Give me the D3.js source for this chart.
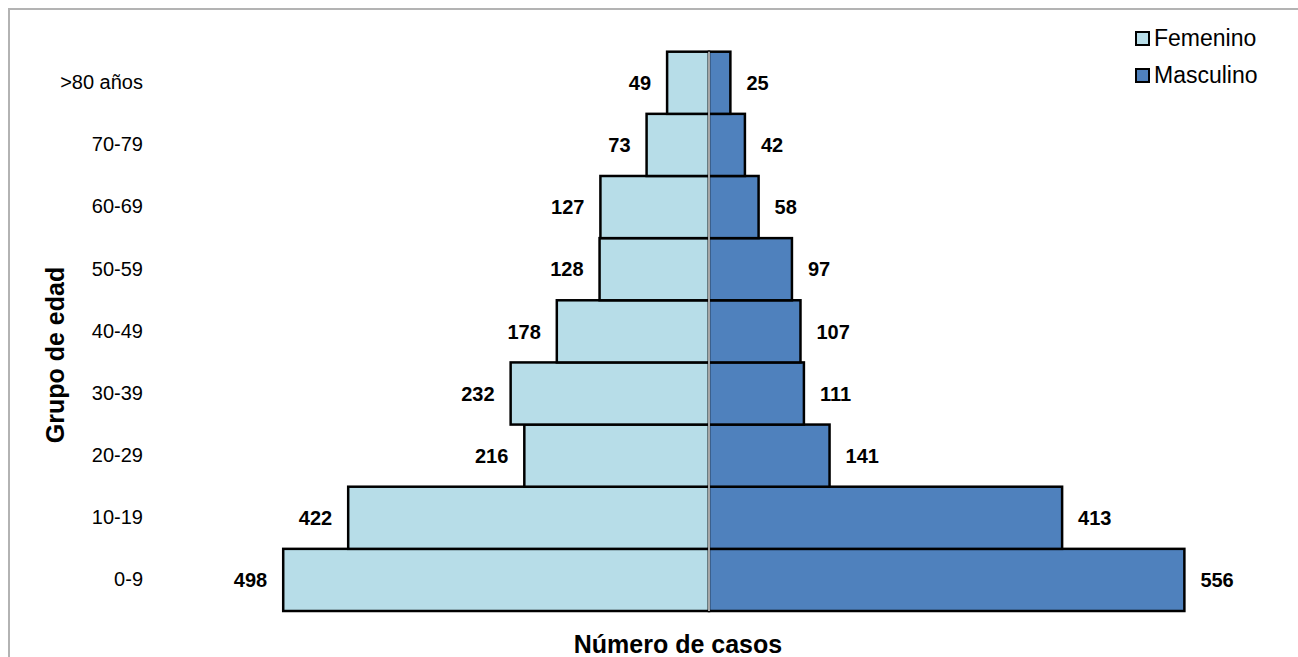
<!DOCTYPE html>
<html>
<head>
<meta charset="utf-8">
<script src="https://cdn.jsdelivr.net/npm/d3@7"></script>
<style>
  body { margin: 0; background: #fff; }
  text { font-family: "Liberation Sans", Arial, sans-serif; }
</style>
</head>
<body>
<script>
var w = 1298, h = 657,
    cx = 709;

// age groups, bottom to top
var groups = ["0-9", "10-19", "20-29", "30-39", "40-49", "50-59", "60-69", "70-79", ">80 años"];
var femenino = [498, 422, 216, 232, 178, 128, 127, 73, 49];
var masculino = [556, 413, 141, 111, 107, 97, 58, 42, 25];
var series = ["Femenino", "Masculino"];
var colors = ["#B7DDE8", "#4F81BD"];

var data = groups.map(function (g, i) { return { g: g, f: femenino[i], m: masculino[i] } });

var svg = d3.select("body").append("svg")
    .attr("width", w)
    .attr("height", h)

// chart border (top and left visible)
svg.append("path")
    .attr("d", "M9," + h + " V9 H" + w)
    .attr("fill", "none")
    .attr("stroke", "#B3B3B3")
    .attr("stroke-width", 2)

var y = d3.scaleBand().domain(groups.slice().reverse()).range([51.7, 611]).padding(0)
var len = d3.scaleLinear().domain([0, 600]).range([0, 513])

// female bars
svg.selectAll(".fem").data(data).enter().append("rect")
    .attr("class", "fem")
    .attr("x", function (d) { return cx - len(d.f) })
    .attr("y", function (d) { return y(d.g) })
    .attr("width", function (d) { return len(d.f) })
    .attr("height", y.bandwidth())
    .attr("fill", colors[0])
    .attr("stroke", "#000")
    .attr("stroke-width", 2.5)

// male bars
svg.selectAll(".masc").data(data).enter().append("rect")
    .attr("class", "masc")
    .attr("x", cx)
    .attr("y", function (d) { return y(d.g) })
    .attr("width", function (d) { return len(d.m) })
    .attr("height", y.bandwidth())
    .attr("fill", colors[1])
    .attr("stroke", "#000")
    .attr("stroke-width", 2.5)

// centre axis
svg.append("line")
    .attr("x1", cx).attr("x2", cx)
    .attr("y1", y.range()[0]).attr("y2", y.range()[1])
    .attr("stroke", "#A6A6A6")
    .attr("stroke-width", 2)

// value labels
svg.selectAll(".flab").data(data).enter().append("text")
    .attr("x", function (d) { return cx - len(d.f) - 16 })
    .attr("y", function (d) { return y(d.g) + y.bandwidth() / 2 })
    .attr("dy", "0.36em")
    .attr("text-anchor", "end")
    .style("font-size", "20px").style("font-weight", "bold")
    .text(function (d) { return d.f })

svg.selectAll(".mlab").data(data).enter().append("text")
    .attr("x", function (d) { return cx + len(d.m) + 16 })
    .attr("y", function (d) { return y(d.g) + y.bandwidth() / 2 })
    .attr("dy", "0.36em")
    .attr("text-anchor", "start")
    .style("font-size", "20px").style("font-weight", "bold")
    .text(function (d) { return d.m })

// category axis labels
var yAxis = d3.axisLeft(y).tickSize(0).tickPadding(0)
var ag = svg.append("g").attr("transform", "translate(143,0)").call(yAxis)
ag.select(".domain").remove()
ag.selectAll("text")
    .style("font-family", "'Liberation Sans', Arial, sans-serif")
    .style("font-size", "20px")
    .attr("fill", "#000")

// axis titles
svg.append("text")
    .attr("transform", "translate(64,355) rotate(-90)")
    .attr("text-anchor", "middle")
    .style("font-size", "25px").style("font-weight", "bold")
    .text("Grupo de edad")

svg.append("text")
    .attr("x", 678).attr("y", 653)
    .attr("text-anchor", "middle")
    .style("font-size", "25px").style("font-weight", "bold")
    .text("Número de casos")

// legend
var lg = svg.selectAll(".leg").data(series).enter().append("g")
    .attr("transform", function (d, i) { return "translate(1136," + (32 + i * 37) + ")" })
lg.append("rect")
    .attr("width", 13).attr("height", 13)
    .attr("fill", function (d, i) { return colors[i] })
    .attr("stroke", "#000").attr("stroke-width", 2)
lg.append("text")
    .attr("x", 18).attr("y", 14)
    .style("font-size", "23px")
    .text(function (d) { return d })
</script>
</body>
</html>
